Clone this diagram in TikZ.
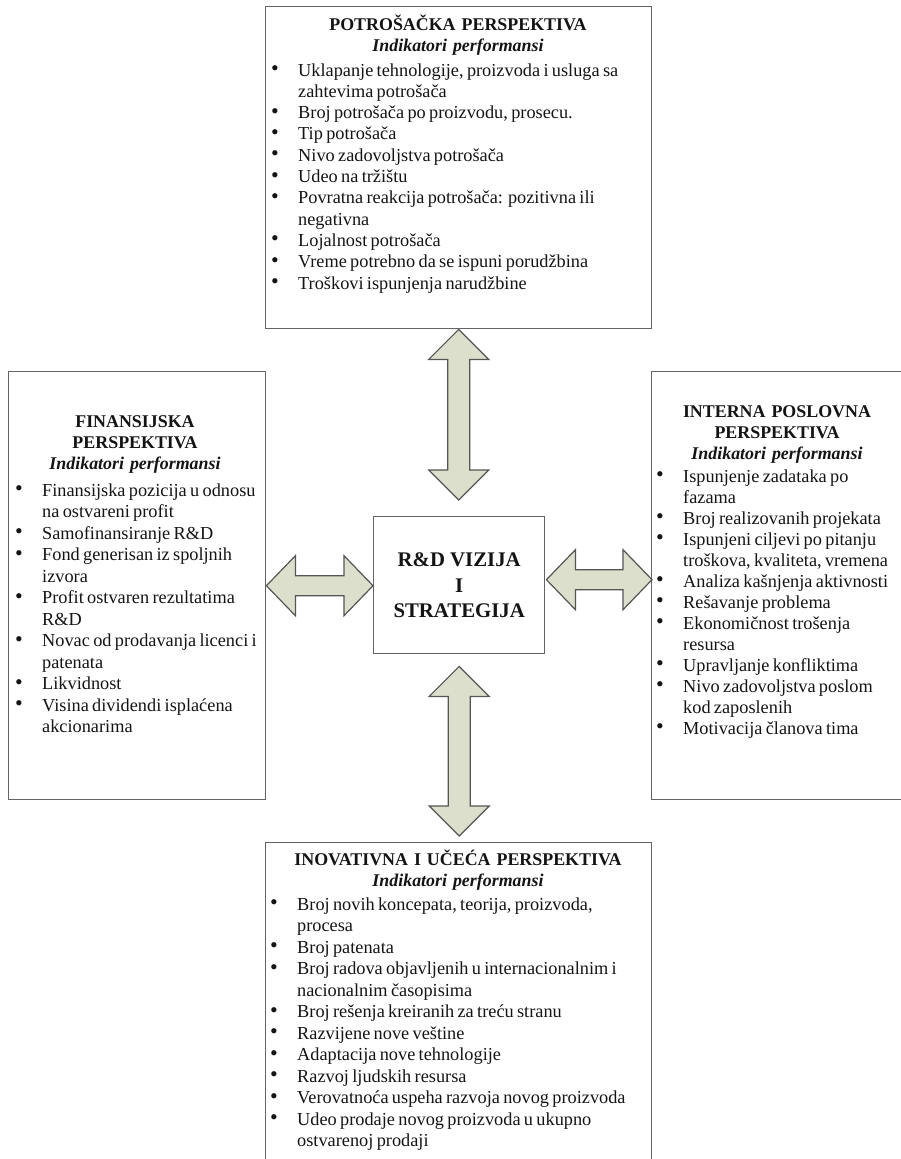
\documentclass[tikz,border=0pt]{standalone}
\usepackage{fontspec}
\setmainfont{Liberation Serif}
\usetikzlibrary{calc}

\definecolor{boxgray}{RGB}{100,100,100}
\definecolor{arrowgray}{RGB}{85,85,85}
\definecolor{arrowfill}{RGB}{221,223,205}
\definecolor{inktext}{RGB}{20,20,20}

% hanging bullet item; line breaks inside an item are written \newline
\newlength{\hangw}
\setlength{\hangw}{27pt}
\newcommand{\bul}[1]{\hangindent=\hangw\hangafter=1\noindent
  \makebox[\hangw][l]{\raisebox{0.5pt}{\scalebox{1.2}{\textbullet}}}#1\par}
\newcommand{\listfont}[1]{\fontsize{18.3}{#1}\selectfont}

% double-headed block arrows between two tips
\newcommand{\dblV}[2]{%
  \draw[dblarrow] let \p1=(#1), \p2=(#2) in
    (\x1,\y1) -- (\x1+30pt,\y1-30pt) -- (\x1+11pt,\y1-30pt) -- (\x1+11pt,\y2+30pt)
    -- (\x1+30pt,\y2+30pt) -- (\x1,\y2) -- (\x1-30pt,\y2+30pt) -- (\x1-11pt,\y2+30pt)
    -- (\x1-11pt,\y1-30pt) -- (\x1-30pt,\y1-30pt) -- cycle;}
\newcommand{\dblH}[2]{%
  \draw[dblarrow] let \p1=(#1), \p2=(#2) in
    (\x1,\y1) -- (\x1+29pt,\y1+30pt) -- (\x1+29pt,\y1+10pt) -- (\x2-29pt,\y1+10pt)
    -- (\x2-29pt,\y1+30pt) -- (\x2,\y1) -- (\x2-29pt,\y1-30pt) -- (\x2-29pt,\y1-10pt)
    -- (\x1+29pt,\y1-10pt) -- (\x1+29pt,\y1-30pt) -- cycle;}

\tikzset{
  panel/.style={draw=boxgray, line width=1.4pt, rectangle, inner sep=0pt, anchor=north west},
  heading/.style={anchor=base, inner sep=0pt, text width=380pt, align=center, text=inktext,
    font=\fontsize{17.9}{21}\selectfont\bfseries},
  items/.style={anchor=base west, inner sep=0pt, text width=420pt, align=left, text=inktext},
  core/.style={panel, text=inktext, align=center,
    font=\fontsize{20.8}{25.5}\selectfont\bfseries},
  dblarrow/.style={draw=arrowgray, fill=arrowfill, line width=1.2pt, line join=miter},
}

\begin{document}
\begin{tikzpicture}[x=1pt,y=-1pt]
\useasboundingbox (0,0) rectangle (901,1159);

% panels
\node[panel, minimum width=386pt, minimum height=322pt] (top) at (265,6) {};
\node[panel, minimum width=257pt, minimum height=428pt] (lft) at (8,371) {};
\node[panel, minimum width=254pt, minimum height=428pt] (rgt) at (651,371) {};
\node[panel, minimum width=386pt, minimum height=325pt] (bot) at (265,842) {};
\node[core, minimum width=171pt, minimum height=137pt] (ctr) at (373,516)
  {R\&D VIZIJA\\I\\STRATEGIJA};

% arrow tips
\coordinate (topTip) at (top.south);
\coordinate (ctrTopTip) at ($(ctr.north)+(0,-16)$);
\coordinate (ctrBotTip) at ($(ctr.south)+(0,12)$);
\coordinate (botTip) at ($(bot.north)+(0,-6)$);
\coordinate (lftTip) at (lft.east);
\coordinate (ctrLftTip) at (ctr.west);
\coordinate (ctrRgtTip) at ($(ctr.east)+(1,-5.5)$);
\coordinate (rgtTip) at ($(rgt.west)+(1,0)$);

\dblV{topTip}{ctrTopTip}
\dblV{ctrBotTip}{botTip}
\dblH{lftTip}{ctrLftTip}
\dblH{ctrRgtTip}{rgtTip}

% top panel
\node[heading] (topHead) at (458,30)
  {POTROŠAČKA PERSPEKTIVA\\\textit{Indikatori performansi}};
\node[items] (topList) at (271,76) {\listfont{21.3}%
  \bul{Uklapanje tehnologije, proizvoda i usluga sa\newline zahtevima potrošača}
  \bul{Broj potrošača po proizvodu, prosecu.}
  \bul{Tip potrošača}
  \bul{Nivo zadovoljstva potrošača}
  \bul{Udeo na tržištu}
  \bul{Povratna reakcija potrošača: pozitivna ili\newline negativna}
  \bul{Lojalnost potrošača}
  \bul{Vreme potrebno da se ispuni porudžbina}
  \bul{Troškovi ispunjenja narudžbine}};

% left panel
\node[heading] (lftHead) at (135,427)
  {FINANSIJSKA\\PERSPEKTIVA\\\textit{Indikatori performansi}};
\node[items] (lftList) at (15,496) {\listfont{21.5}%
  \bul{Finansijska pozicija u odnosu\newline na ostvareni profit}
  \bul{Samofinansiranje R\&D}
  \bul{Fond generisan iz spoljnih\newline izvora}
  \bul{Profit ostvaren rezultatima\newline R\&D}
  \bul{Novac od prodavanja licenci i\newline patenata}
  \bul{Likvidnost}
  \bul{Visina dividendi isplaćena\newline akcionarima}};

% right panel
\node[heading] (rgtHead) at (777,417)
  {INTERNA POSLOVNA\\PERSPEKTIVA\\\textit{Indikatori performansi}};
\node[items] (rgtList) at (656,482) {\listfont{21.0}%
  \bul{Ispunjenje zadataka po\newline fazama}
  \bul{Broj realizovanih projekata}
  \bul{Ispunjeni ciljevi po pitanju\newline troškova, kvaliteta, vremena}
  \bul{Analiza kašnjenja aktivnosti}
  \bul{Rešavanje problema}
  \bul{Ekonomičnost trošenja\newline resursa}
  \bul{Upravljanje konfliktima}
  \bul{Nivo zadovoljstva poslom\newline kod zaposlenih}
  \bul{Motivacija članova tima}};

% bottom panel
\node[heading] (botHead) at (458,865)
  {INOVATIVNA I UČEĆA PERSPEKTIVA\\\textit{Indikatori performansi}};
\node[items] (botList) at (270,910) {\listfont{21.5}%
  \bul{Broj novih koncepata, teorija, proizvoda,\newline procesa}
  \bul{Broj patenata}
  \bul{Broj radova objavljenih u internacionalnim i\newline nacionalnim časopisima}
  \bul{Broj rešenja kreiranih za treću stranu}
  \bul{Razvijene nove veštine}
  \bul{Adaptacija nove tehnologije}
  \bul{Razvoj ljudskih resursa}
  \bul{Verovatnoća uspeha razvoja novog proizvoda}
  \bul{Udeo prodaje novog proizvoda u ukupno\newline ostvarenoj prodaji}};
\end{tikzpicture}
\end{document}
